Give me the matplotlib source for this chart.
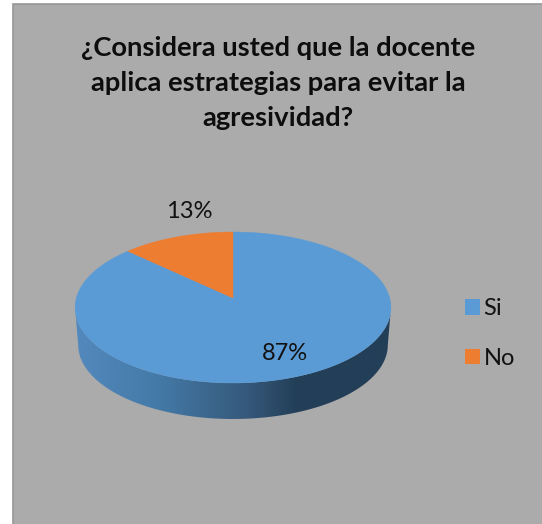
import numpy as np
import matplotlib
matplotlib.use('Agg')
import matplotlib.pyplot as plt
from matplotlib.colors import LinearSegmentedColormap
from matplotlib.patches import Patch, Polygon, Rectangle

# datos del grafico
categories = ['Si', 'No']
values = [87, 13]
labels = ['87%', '13%']
title = '¿Considera usted que la docente\naplica estrategias para evitar la\nagresividad?'

colors = ['#5b9bd5', '#ed7d31']

plt.rcParams['font.family'] = ['Lato', 'DejaVu Sans']

W, H = 542, 524
fig = plt.figure(figsize=(W / 100, H / 100), dpi=100, facecolor='white')
ax = fig.add_axes([0, 0, 1, 1])

# perspectiva del disco (pixeles)
cx, cy = 233, 298
rx, ry, k = 156.7, 74.3, 0.1258
depth, shrink = 37.7, 0.98


def disc_point(theta, s=1.0, dy=0.0):
    # theta en grados, horario desde arriba
    t = np.radians(theta)
    u, v = np.sin(t), np.cos(t)
    d = 1 + k * v
    return cx + s * rx * u / d, cy + dy - s * ry * v / d


# fondo del panel (los bordes derecho e inferior quedan fuera de la imagen)
ax.add_patch(Rectangle((13, 4), W, H, facecolor='#ababab', edgecolor='#979797', linewidth=1.2))

# lateral con degradado
edge_deg = np.degrees(np.arccos(-k))
th = np.linspace(edge_deg, 360 - edge_deg, 200)
x1, y1 = disc_point(th)
x2, y2 = disc_point(th[::-1], shrink, depth)
side = Polygon(np.c_[np.r_[x1, x2], np.r_[y1, y2]], closed=True, facecolor='none', edgecolor='none')
ax.add_patch(side)
cmap = LinearSegmentedColormap.from_list('lado', [(0, '#5389bd'), (0.25, '#457ba9'), (0.55, '#35587a'),
                                                  (0.7, '#233f58'), (1, '#243f58')])
img = ax.imshow(np.linspace(0, 1, 256)[None, :], extent=(74, 392, 430, 300), cmap=cmap, aspect='auto', zorder=2)
img.set_clip_path(side)

# tapa: las porciones salen de los valores, "No" termina arriba
start = 0
for i, val in enumerate(values):
    end = start + val / sum(values) * 360
    t = np.linspace(start, end, 200)
    x, y = disc_point(t)
    ax.fill(np.r_[cx, x], np.r_[cy, y], color=colors[i], linewidth=0.3, zorder=3)
    start = end

ax.text(285, 353, labels[0], ha='center', va='center', fontsize=17, color='#111111', zorder=4)
ax.text(189, 212, labels[1], ha='center', va='center', fontsize=17, color='#111111', zorder=4)

ax.text(278, 83, title, ha='center', va='center', fontsize=19.7, fontweight='bold', color='#0d0d0d',
        linespacing=1.55, zorder=4)

handles = [Patch(facecolor=c, edgecolor='none') for c in colors]
ax.legend(handles, categories, loc='center left', bbox_to_anchor=(444, 333.5), bbox_transform=ax.transData,
          frameon=False, fontsize=17, handlelength=0.63, handleheight=0.63, handletextpad=0.15,
          labelspacing=1.22, labelcolor='#111111')

ax.set_xlim(0, W)
ax.set_ylim(H, 0)
ax.axis('off')

plt.savefig('out.png', dpi=100)
